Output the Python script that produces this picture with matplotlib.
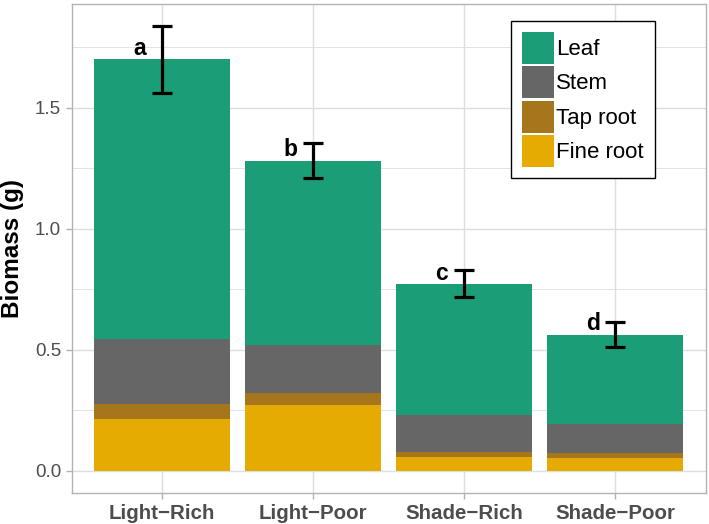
import matplotlib
matplotlib.use("Agg")
import matplotlib.pyplot as plt
import numpy as np

plt.rcParams['font.family'] = ['Liberation Sans', 'DejaVu Sans']

categories = ["Light\u2212Rich", "Light\u2212Poor", "Shade\u2212Rich", "Shade\u2212Poor"]
fine_root = [0.215, 0.272, 0.055, 0.053]
tap_root = [0.060, 0.048, 0.022, 0.020]
stem = [0.271, 0.198, 0.153, 0.119]
leaf = [1.154, 0.763, 0.542, 0.371]
err = [0.138, 0.072, 0.056, 0.050]
letters = ["a", "b", "c", "d"]

components = [("Fine root", fine_root, "#e6ab02"),
              ("Tap root", tap_root, "#a6761d"),
              ("Stem", stem, "#666666"),
              ("Leaf", leaf, "#1b9e77")]

W, H = 709, 524
fig = plt.figure(figsize=(W / 100, H / 100), dpi=100)
ax = fig.add_axes([71.5 / W, 1 - 493 / H, (706 - 71.5) / W, (493 - 4) / H])

x = np.arange(1, len(categories) + 1)
bottom = np.zeros(len(categories))
handles = {}
for name, vals, col in components:
    b = ax.bar(x, vals, width=0.9, bottom=bottom, color=col, zorder=3, linewidth=0)
    handles[name] = b
    bottom = bottom + np.array(vals)

total = bottom
ax.errorbar(x, total, yerr=err, fmt='none', ecolor='black', elinewidth=2.3,
            capsize=7, capthick=2.3, zorder=5)
for xi, t, lab in zip(x, total, letters):
    ax.text(xi - 0.15, t + 0.045, lab, ha='center', va='center', fontsize=16.5,
            fontweight='bold', zorder=6)

ax.set_xlim(0.4, 4.6)
ax.set_ylim(-0.092, 1.929)
ax.set_yticks([0, 0.5, 1.0, 1.5])
ax.set_yticklabels(["0.0", "0.5", "1.0", "1.5"])
ax.set_yticks([0.25, 0.75, 1.25, 1.75], minor=True)
ax.set_xticks(x)
ax.set_xticklabels(categories, fontweight='bold', fontsize=14.8)
ax.grid(True, which='major', color='#dedede', linewidth=1.0, zorder=0)
ax.grid(True, which='minor', axis='y', color='#dedede', linewidth=0.6, zorder=0)
ax.set_axisbelow(True)
for s in ax.spines.values():
    s.set_color('#b3b3b3')
    s.set_linewidth(1.0)
ax.tick_params(axis='both', which='major', colors='#b3b3b3', length=4, width=1,
               labelcolor='#4d4d4d', labelsize=13.5)
ax.tick_params(axis='x', labelsize=14.8, pad=4)
ax.tick_params(axis='y', which='minor', length=0)
ax.set_ylabel("Biomass (g)", fontsize=17.5, fontweight='bold', labelpad=8)

order = ["Leaf", "Stem", "Tap root", "Fine root"]
leg = ax.legend([handles[n] for n in order], order, loc='upper left',
                bbox_to_anchor=(510.7 / W, 1 - 20.7 / H), bbox_transform=fig.transFigure,
                borderaxespad=0, fontsize=16, frameon=True, fancybox=False,
                edgecolor='black', framealpha=1, handlelength=1.45, handleheight=1.85,
                labelspacing=0.1, handletextpad=0.1, borderpad=0.5)
leg.get_frame().set_linewidth(1.0)

fig.savefig("out.png", dpi=100)
